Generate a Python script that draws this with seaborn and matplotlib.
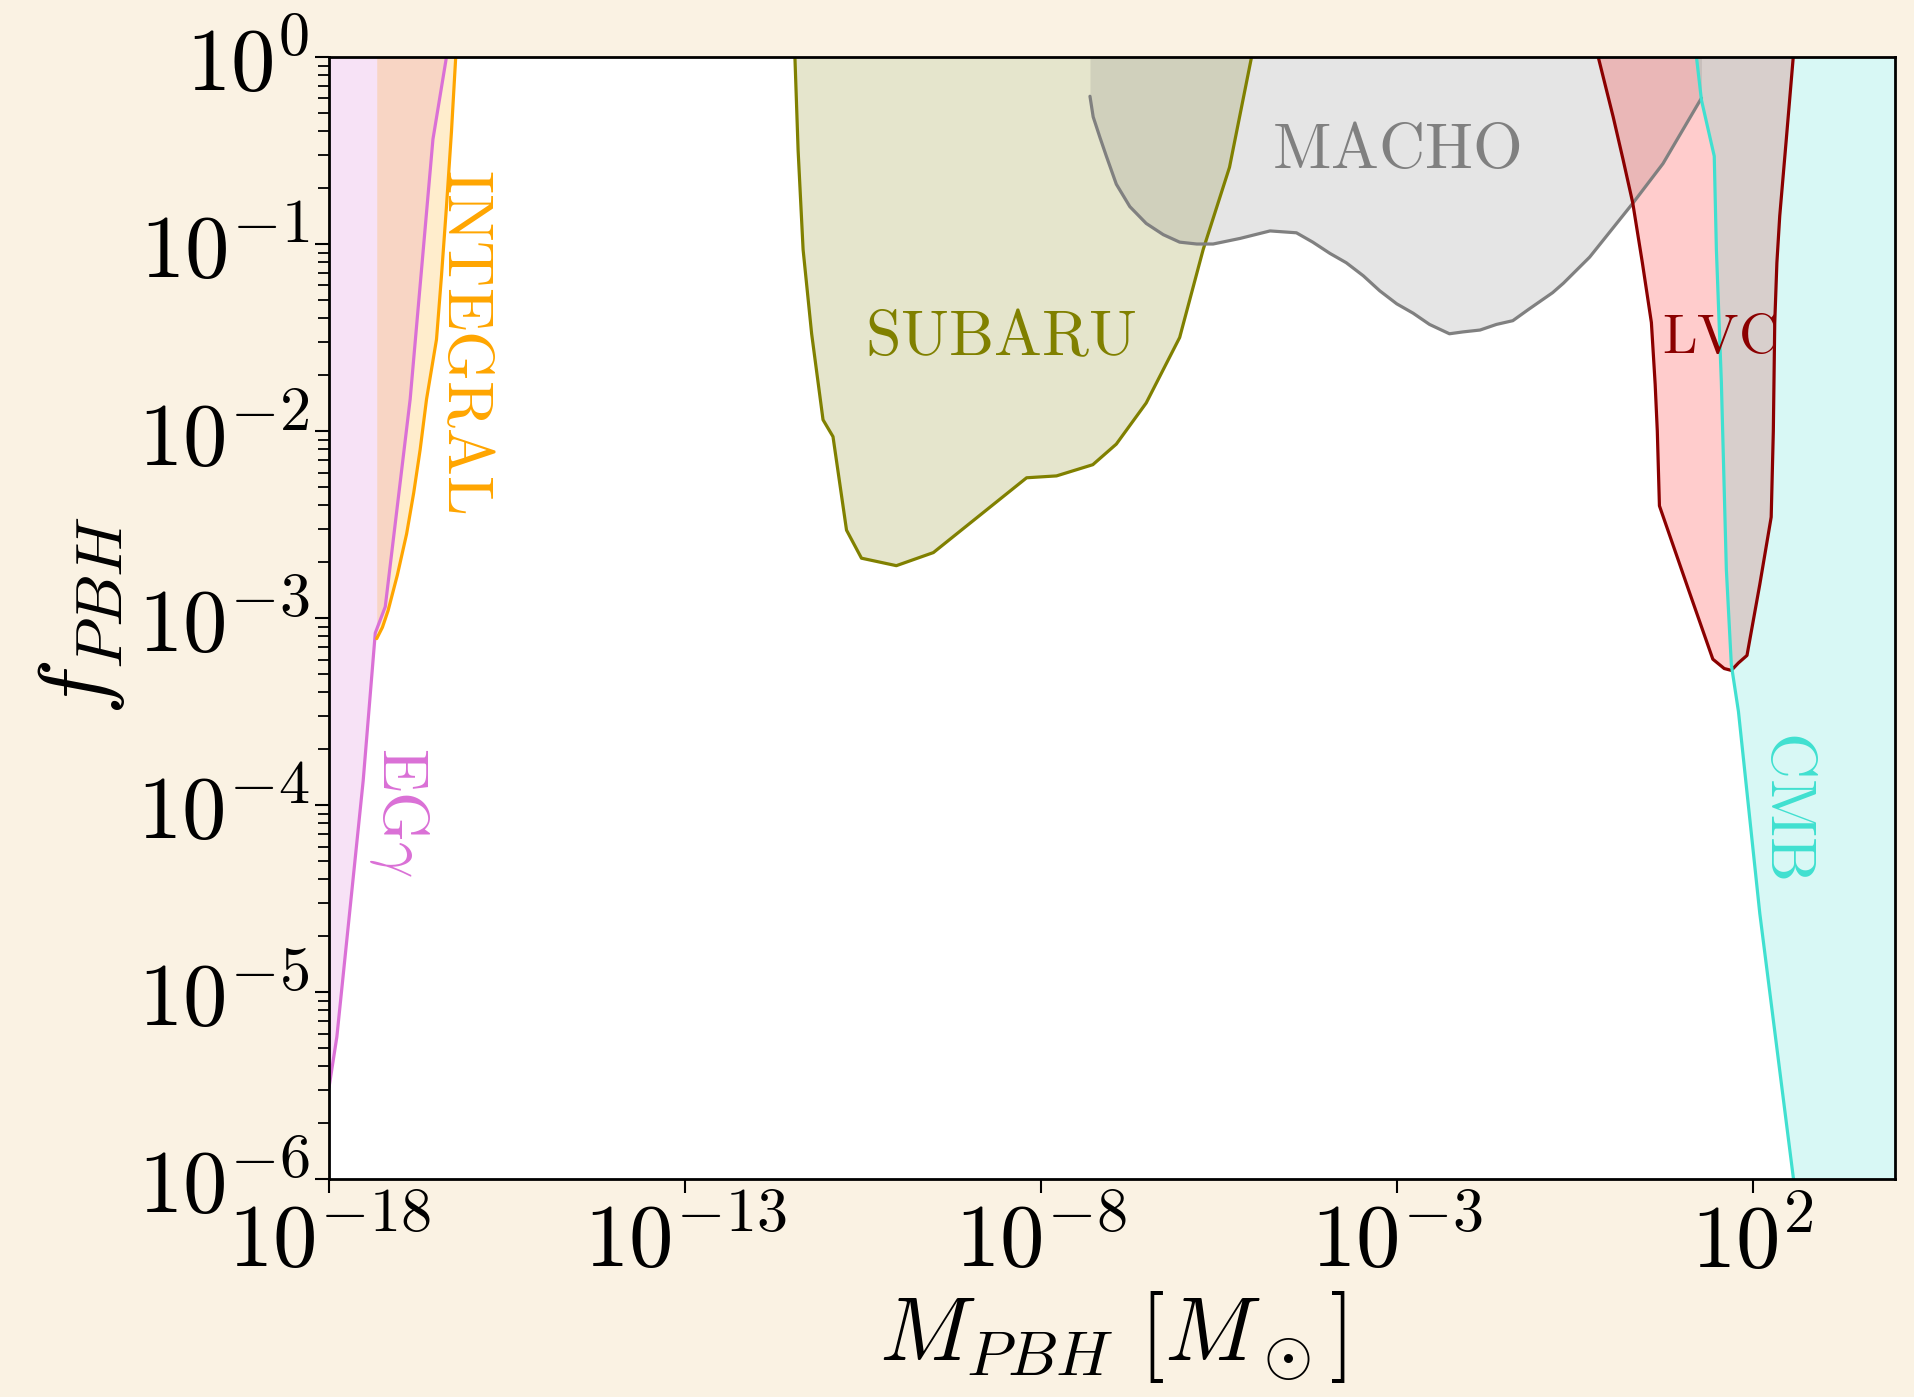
import numpy as np
import matplotlib
matplotlib.use("Agg")
import matplotlib.pyplot as plt
import seaborn as sns
from matplotlib.ticker import FixedLocator, NullLocator, LogLocator, FuncFormatter

# ---- data: log10(M/Msun) and log10(f_PBH) along each constraint boundary ----
egg_logM = [-18.0, -17.89, -17.52, -17.35, -17.21, -16.86, -16.54, -16.35]
egg_logf = [-5.51, -5.24, -3.87, -3.08, -2.94, -1.83, -0.44, 0.0]

integral_logM = [-17.33, -17.25, -17.17, -17.04, -16.91, -16.81, -16.72, -16.63,
                 -16.49, -16.42, -16.35, -16.28, -16.22]
integral_logf = [-3.11, -3.05, -2.96, -2.77, -2.55, -2.33, -2.10, -1.83,
                 -1.51, -1.17, -0.80, -0.40, 0.0]

subaru_logM = [-11.455, -11.41, -11.34, -11.22, -11.06, -10.92, -10.73, -10.52, -10.03,
               -9.51, -8.20, -7.78, -7.27, -6.94, -6.52, -6.05, -5.72, -5.35, -5.04]
subaru_logf = [0.0, -0.50, -1.03, -1.48, -1.94, -2.03, -2.53, -2.68, -2.72,
               -2.65, -2.25, -2.24, -2.18, -2.07, -1.85, -1.50, -1.03, -0.59, 0.0]

macho_logM = [-7.31, -7.265, -7.17, -7.08, -6.94, -6.75, -6.52, -6.28, -6.05, -5.81,
              -5.58, -5.20, -4.78, -4.41, -4.18, -3.94, -3.71, -3.47, -3.24, -3.00,
              -2.77, -2.54, -2.26, -2.07, -1.83, -1.60, -1.37, -1.15, -0.81, -0.66,
              -0.29, 0.32, 0.74, 1.28]
macho_logf = [-0.21, -0.32, -0.43, -0.53, -0.68, -0.80, -0.89, -0.95, -0.99, -1.00,
              -1.00, -0.97, -0.93, -0.94, -0.99, -1.05, -1.10, -1.17, -1.25, -1.32,
              -1.37, -1.43, -1.48, -1.47, -1.46, -1.43, -1.41, -1.35, -1.26, -1.21,
              -1.07, -0.78, -0.57, -0.22]

lvc_logM = [-0.17, 0.04, 0.18, 0.315, 0.45, 0.577, 0.63, 0.66, 0.69, 1.10, 1.44, 1.60,
            1.70, 1.80, 1.92, 2.10, 2.26, 2.29, 2.31, 2.34, 2.38, 2.47, 2.57]
lvc_logf = [0.0, -0.32, -0.55, -0.78, -1.10, -1.42, -1.75, -2.00, -2.40, -2.85, -3.22,
            -3.27, -3.28, -3.24, -3.20, -2.82, -2.46, -2.00, -1.42, -1.10, -0.85, -0.45, 0.0]

cmb_logM = [1.21, 1.28, 1.46, 1.49, 1.56, 1.63, 1.70, 1.80, 2.10, 2.57, 4.0]
cmb_logf = [0.0, -0.23, -0.53, -1.03, -1.74, -2.74, -3.25, -3.50, -4.58, -5.99, -9.0]

x_ticks_exp = [-18, -13, -8, -3, 2]

constraints = [
    ("EGg", egg_logM, egg_logf, "orchid"),
    ("INTEGRAL", integral_logM, integral_logf, "orange"),
    ("SUBARU", subaru_logM, subaru_logf, "olive"),
    ("MACHO", macho_logM, macho_logf, "gray"),
    ("LVC", lvc_logM, lvc_logf, "darkred"),
    ("CMB", cmb_logM, cmb_logf, "turquoise"),
]
fill_colors = {"LVC": "red"}

labels = [
    (r"$\mathrm{INTEGRAL}$", -16.09, -1.52, "orange", -90, 46),
    (r"$\mathrm{EG}\gamma$", -17.02, -4.04, "orchid", -90, 46),
    (r"$\mathrm{SUBARU}$", -8.56, -1.50, "olive", 0, 46),
    (r"$\mathrm{MACHO}$", -3.00, -0.50, "gray", 0, 46),
    (r"$\mathrm{LVC}$", 1.53, -1.50, "darkred", 0, 40),
    (r"$\mathrm{CMB}$", 2.50, -4.00, "turquoise", -90, 46),
]

# ---- figure ----
sns.set_theme(style="ticks")
plt.rcParams.update({
    "mathtext.fontset": "cm",
    "font.family": ["DejaVu Serif"],
    "axes.unicode_minus": False,
})

bg = "#faf2e3"
fig = plt.figure(figsize=(19.14, 13.97), dpi=100, facecolor=bg)
ax = fig.add_axes([0.1719, 0.1560, 0.8182, 0.8032])
ax.set_facecolor("white")
ax.set_xscale("log")
ax.set_yscale("log")

for name, lm, lf, col in constraints:
    M = 10.0 ** np.array(lm)
    f = 10.0 ** np.array(lf)
    ax.fill_between(M, f, 1.0, color=fill_colors.get(name, col), alpha=0.2, lw=0, zorder=1)
for name, lm, lf, col in constraints:
    M = 10.0 ** np.array(lm)
    f = 10.0 ** np.array(lf)
    sns.lineplot(x=M, y=f, ax=ax, color=col, lw=2.3, sort=False, estimator=None, zorder=2)

for txt, lm, lf, col, rot, fs in labels:
    ax.text(10 ** lm, 10 ** lf, txt, color=col, fontsize=fs, rotation=rot,
            ha="center", va="center", zorder=3)

ax.set_xlim(1e-18, 1e4)
ax.set_ylim(1e-6, 1.0)

fmt = FuncFormatter(lambda v, p: r"$10^{%d}$" % int(round(np.log10(v))))
ax.xaxis.set_major_locator(FixedLocator([10.0 ** e for e in x_ticks_exp]))
ax.xaxis.set_minor_locator(NullLocator())
ax.xaxis.set_major_formatter(fmt)
ax.yaxis.set_major_locator(LogLocator(base=10, numticks=20))
ax.yaxis.set_minor_locator(LogLocator(base=10, subs=np.arange(2, 10), numticks=200))
ax.yaxis.set_major_formatter(fmt)

ax.tick_params(which="major", direction="out", length=10, width=1.5, color="black",
               labelsize=64, pad=4, labelcolor="black")
ax.tick_params(which="minor", direction="out", length=8, width=1.3, color="black")
for sp in ax.spines.values():
    sp.set_visible(True)
    sp.set_linewidth(2.0)
    sp.set_color("black")

ax.set_xlabel(r"$M_{PBH}\ [M_\odot]$", fontsize=65, color="black")
ax.set_ylabel(r"$f_{PBH}$", fontsize=68, color="black")
ax.xaxis.label.set_va("center")
ax.xaxis.set_label_coords(0.5, -0.141)
ax.yaxis.label.set_va("center")
ax.yaxis.set_label_coords(-0.158, 0.502)

fig.savefig("out.png", dpi=100, facecolor=bg)
